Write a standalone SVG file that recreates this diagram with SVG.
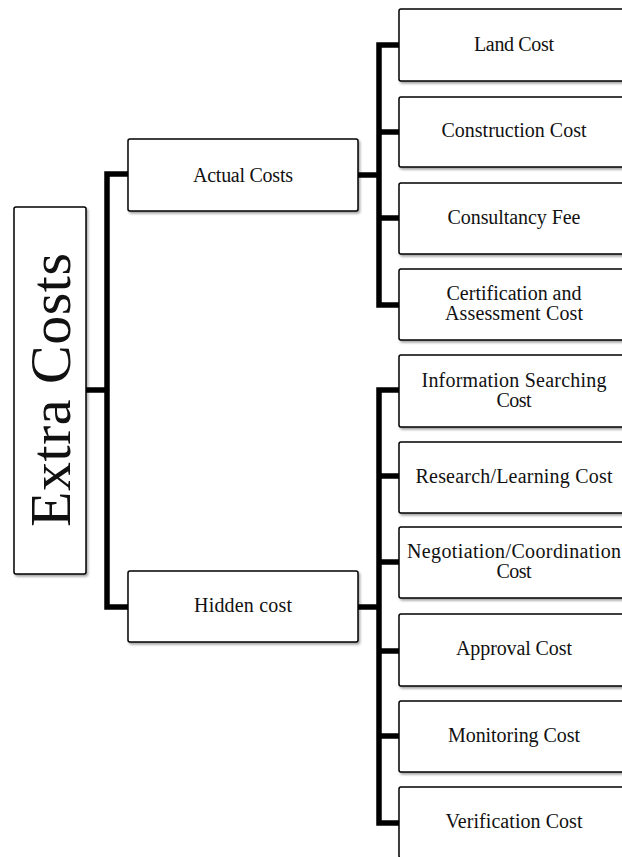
<svg xmlns="http://www.w3.org/2000/svg" width="622" height="857" viewBox="0 0 622 857">
<style>
.box{fill:#fff;stroke:#000;stroke-width:1.5;filter:url(#sh)}
.t{font-family:"Liberation Serif","Times New Roman",serif;font-size:20px;fill:#111;text-anchor:middle}
.big{font-family:"Liberation Serif","Times New Roman",serif;font-size:58px;fill:#111;text-anchor:middle}
.c{fill:none;stroke:#000;stroke-width:5.5;stroke-linejoin:miter}
</style>
<defs>
<filter id="sh" x="-10%" y="-10%" width="130%" height="130%">
<feDropShadow dx="1.5" dy="2" stdDeviation="1.2" flood-color="#000" flood-opacity="0.35"/>
</filter>
</defs>
<rect width="622" height="857" fill="#fff"/>
<g id="connectors">
<path class="c" d="M86,390 H107"/>
<path class="c" d="M128,174 H107 V607 H128"/>
<path class="c" d="M358,175 H379"/>
<path class="c" d="M399,45 H379 V305 H399 M379,132 H399 M379,218 H399"/>
<path class="c" d="M358,607 H379"/>
<path class="c" d="M399,390 H379 V823 H399 M379,476 H399 M379,562 H399 M379,651 H399 M379,736 H399"/>
</g>
<g id="extra-costs">
<rect class="box" x="14" y="207" width="72" height="367" rx="2"/>
<text class="big" transform="translate(70,390) rotate(-90)" x="0" y="0" textLength="274">Extra Costs</text>
</g>
<g id="actual-costs">
<rect class="box" x="128" y="139" width="230" height="72" rx="2"/>
<text class="t" x="243" y="182" textLength="100">Actual Costs</text>
</g>
<g id="hidden-cost">
<rect class="box" x="128" y="571" width="230" height="71" rx="2"/>
<text class="t" x="243" y="612" textLength="98">Hidden cost</text>
</g>
<g id="land-cost">
<rect class="box" x="399" y="9" width="232" height="72" rx="2"/>
<text class="t" x="514" y="51" textLength="80">Land Cost</text>
</g>
<g id="construction-cost">
<rect class="box" x="399" y="97" width="232" height="70" rx="2"/>
<text class="t" x="514" y="137" textLength="145">Construction Cost</text>
</g>
<g id="consultancy-fee">
<rect class="box" x="399" y="183" width="232" height="71" rx="2"/>
<text class="t" x="514" y="224" textLength="133">Consultancy Fee</text>
</g>
<g id="certification">
<rect class="box" x="399" y="269" width="232" height="71" rx="2"/>
<text class="t" x="514" y="300" textLength="135">Certification and</text>
<text class="t" x="514" y="320" textLength="138">Assessment Cost</text>
</g>
<g id="information-searching">
<rect class="box" x="399" y="355" width="232" height="72" rx="2"/>
<text class="t" x="514" y="387" textLength="185">Information Searching</text>
<text class="t" x="514" y="407" textLength="35">Cost</text>
</g>
<g id="research-learning">
<rect class="box" x="399" y="442" width="232" height="71" rx="2"/>
<text class="t" x="514" y="483" textLength="197">Research/Learning Cost</text>
</g>
<g id="negotiation-coordination">
<rect class="box" x="399" y="527" width="232" height="71" rx="2"/>
<text class="t" x="514" y="558" textLength="214">Negotiation/Coordination</text>
<text class="t" x="514" y="578" textLength="35">Cost</text>
</g>
<g id="approval-cost">
<rect class="box" x="399" y="614" width="232" height="72" rx="2"/>
<text class="t" x="514" y="655" textLength="116">Approval Cost</text>
</g>
<g id="monitoring-cost">
<rect class="box" x="399" y="701" width="232" height="71" rx="2"/>
<text class="t" x="514" y="742" textLength="132">Monitoring Cost</text>
</g>
<g id="verification-cost">
<rect class="box" x="399" y="787" width="232" height="71" rx="2"/>
<text class="t" x="514" y="828" textLength="137">Verification Cost</text>
</g>
</svg>
